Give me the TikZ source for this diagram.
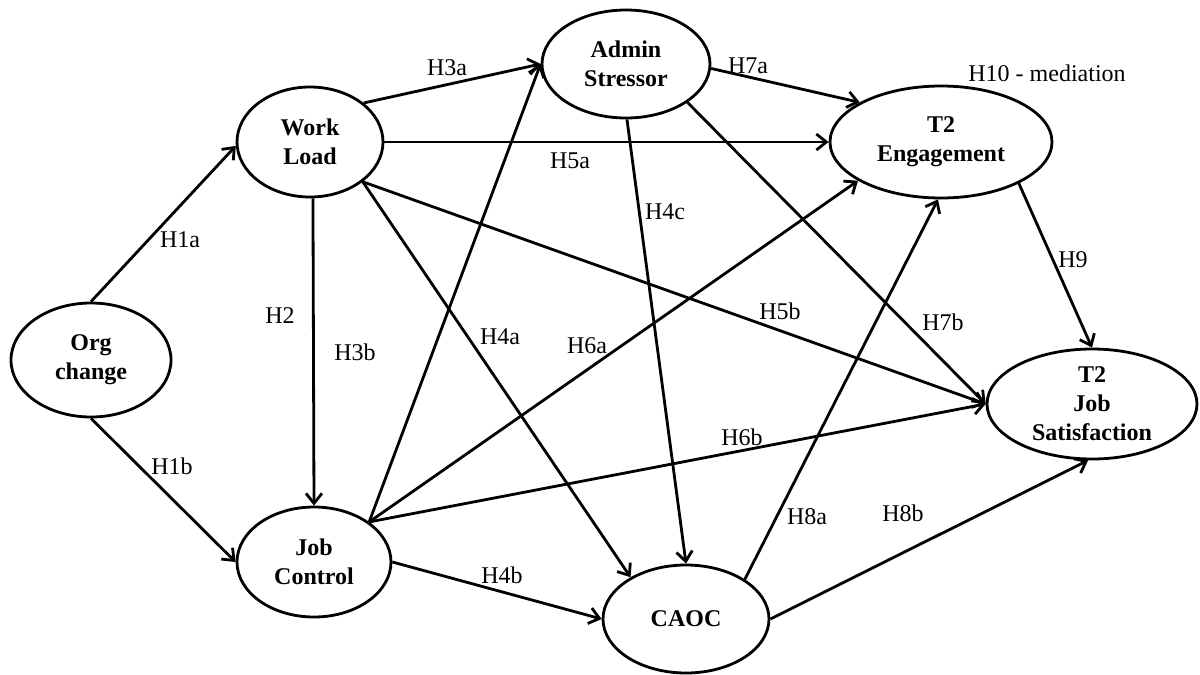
\documentclass[tikz,border=0pt]{standalone}
\usepackage{fontspec}
\setmainfont{Liberation Serif}
\usetikzlibrary{shapes.geometric,arrows.meta}
\tikzset{
  var/.style={ellipse, draw, line width=1.4pt, inner sep=0pt, align=center,
    font=\fontsize{12}{14.5}\selectfont\bfseries},
  lbl/.style={inner sep=0pt, font=\fontsize{12}{14.5}\selectfont},
  path/.style={line width=1.4pt, -{Straight Barb[length=5pt,width=8pt,line width=1.4pt]}},
}
\begin{document}
\begin{tikzpicture}[x=0.5pt,y=-0.5pt]
\useasboundingbox (0,0) rectangle (1200,675);
\node[var, minimum width=80pt, minimum height=57pt] (org) at (91,360) {Org\\change};
\node[var, minimum width=73pt, minimum height=55pt] (wl) at (310,142) {Work\\Load};
\node[var, minimum width=84pt, minimum height=54pt] (as) at (626,64) {Admin\\Stressor};
\node[var, minimum width=111pt, minimum height=56pt] (t2e) at (941,142) {T2\\Engagement};
\node[var, minimum width=105pt, minimum height=55pt] (t2js) at (1092,404) {T2\\Job\\Satisfaction};
\node[var, minimum width=77pt, minimum height=55pt] (jc) at (314,562) {Job\\Control};
\node[var, minimum width=83pt, minimum height=54pt] (caoc) at (686,619) {CAOC};

\draw[path] (org.90) -- (wl.183);
\draw[path] (org.270) -- (jc.180);
\draw[path] (wl.273) -- (jc.90);
\draw[path] (wl.36) -- (as.180);
\draw[path] (jc.36) -- (as.180);
\draw[path] (wl.0) -- (t2e.180);
\draw[path] (wl.-37) -- (caoc.143.7);
\draw[path] (wl.-37) -- (t2js.180);
\draw[path] (as.-89) -- (caoc.90);
\draw[path] (as.-3) -- (t2e.154.3);
\draw[path] (as.-32.6) -- (t2js.180);
\draw[path] (jc.36) -- (t2e.205.7);
\draw[path] (jc.36) -- (t2js.180);
\draw[path] (jc.0) -- (caoc.180);
\draw[path] (caoc.34.4) -- (t2e.267);
\draw[path] (caoc.0) -- (t2js.266);
\draw[path] (t2e.-28) -- (t2js.90);

\node[lbl] (lH1a) at (180,240) {H1a};
\node[lbl] (lH1b) at (172,466) {H1b};
\node[lbl] (lH2) at (280,316) {H2};
\node[lbl] (lH3a) at (447,68) {H3a};
\node[lbl] (lH3b) at (355,352) {H3b};
\node[lbl] (lH4a) at (500,337) {H4a};
\node[lbl] (lH4b) at (502,575) {H4b};
\node[lbl] (lH4c) at (665,212) {H4c};
\node[lbl] (lH5a) at (570,161) {H5a};
\node[lbl] (lH5b) at (780,311) {H5b};
\node[lbl] (lH6a) at (587,346) {H6a};
\node[lbl] (lH6b) at (742,437) {H6b};
\node[lbl] (lH7a) at (748,66) {H7a};
\node[lbl] (lH7b) at (943,322) {H7b};
\node[lbl] (lH8a) at (807,517) {H8a};
\node[lbl] (lH8b) at (903,513) {H8b};
\node[lbl] (lH9) at (1073,260) {H9};
\node[lbl] (lH10) at (1047,73) {H10 - mediation};
\end{tikzpicture}
\end{document}
